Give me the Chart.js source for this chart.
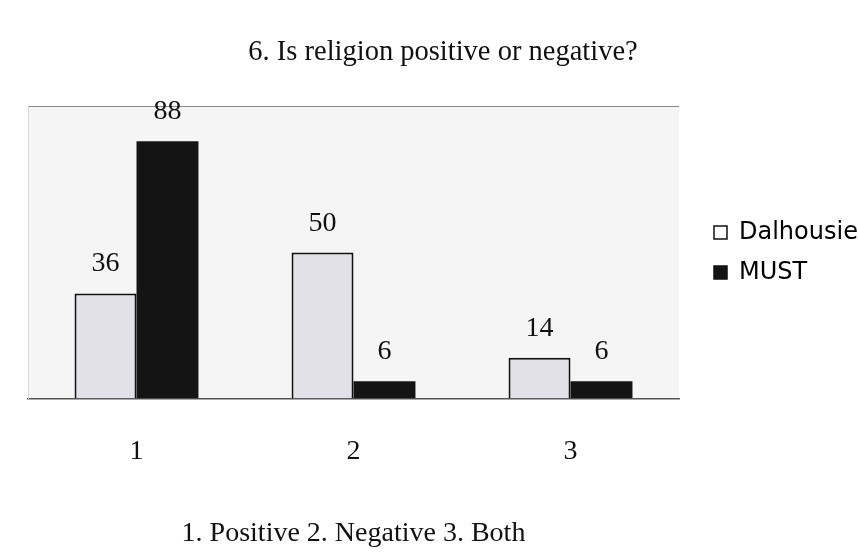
<!DOCTYPE html>
<html>
<head>
<meta charset="utf-8">
<script src="https://cdn.jsdelivr.net/npm/chart.js@4.4.0/dist/chart.umd.min.js"></script>
<style>
    html, body { margin: 0; padding: 0; background: #ffffff; }
    #wrap { width: 858px; height: 553px; }
</style>
</head>
<body>
<div id="wrap"><canvas id="chart"></canvas></div>
<script>
// Datos del gráfico
const categories = ['1', '2', '3'];
const dalhousie = [36, 50, 14];
const must = [88, 6, 6];
const seriesNames = ['Dalhousie', 'MUST'];
const titleText = '6. Is religion positive or negative?';
const xTitle = '1. Positive 2. Negative 3. Both';

// Fondo gris claro del área de trazado
const plotBackground = {
    id: 'plotBackground',
    beforeDraw(chart) {
        const { ctx, chartArea } = chart;
        ctx.save();
        ctx.fillStyle = '#f5f5f6';
        ctx.fillRect(chartArea.left, chartArea.top, chartArea.width, chartArea.height);
        ctx.restore();
    }
};

// Leyenda: ancho fijo y desplazada un poco a la derecha
const legendFit = {
    id: 'legendFit',
    beforeLayout(chart) {
        const legend = chart.legend;
        if (!legend || legend._patched) return;
        const fit = legend.fit;
        legend.fit = function () {
            fit.call(this);
            this.width = 179;
        };
        legend._patched = true;
    },
    afterLayout(chart) {
        const legend = chart.legend;
        legend.left += 19;
        legend.right += 19;
    }
};

// Etiquetas de valor encima de las barras
const valueLabels = {
    id: 'valueLabels',
    afterDatasetsDraw(chart) {
        const ctx = chart.ctx;
        ctx.save();
        ctx.font = '28px "Liberation Serif"';
        ctx.fillStyle = '#111';
        ctx.textAlign = 'center';
        ctx.textBaseline = 'alphabetic';
        chart.data.datasets.forEach((ds, i) => {
            chart.getDatasetMeta(i).data.forEach((bar, j) => {
                ctx.fillText(ds.data[j], bar.x, bar.y - 22);
            });
        });
        ctx.restore();
    }
};

new Chart(document.getElementById('chart'), {
    type: 'bar',
    data: {
        labels: categories,
        datasets: [{
            label: seriesNames[0],
            data: dalhousie,
            backgroundColor: '#e2e1e8',
            borderColor: '#111',
            borderWidth: 2,
            borderSkipped: 'bottom'
        }, {
            label: seriesNames[1],
            data: must,
            backgroundColor: '#141414',
            borderColor: '#141414',
            borderWidth: 0
        }]
    },
    options: {
        responsive: true,
        maintainAspectRatio: false,
        animation: false,
        layout: { padding: { left: 28, right: 0, top: 0, bottom: 3 } },
        datasets: {
            bar: { categoryPercentage: 0.571, barPercentage: 1.0 }
        },
        plugins: {
            title: {
                display: true,
                text: titleText,
                color: '#111',
                font: { family: 'Liberation Serif', size: 28.5, weight: 'normal' },
                padding: { top: 35, bottom: 37 }
            },
            legend: {
                position: 'right',
                fullSize: false,
                labels: {
                    color: '#111',
                    font: { family: 'DejaVu Sans', size: 24 },
                    boxWidth: 13,
                    boxHeight: 13,
                    padding: 16,
                    generateLabels(chart) {
                        return chart.data.datasets.map((ds, i) => ({
                            text: ds.label,
                            fillStyle: i === 0 ? '#ffffff' : '#141414',
                            strokeStyle: '#111',
                            lineWidth: 1.5,
                            datasetIndex: i
                        }));
                    }
                }
            },
            tooltip: { enabled: false }
        },
        scales: {
            x: {
                grid: { display: false },
                border: { display: true, color: '#555', width: 1.5 },
                ticks: {
                    color: '#111',
                    font: { family: 'Liberation Serif', size: 28 },
                    padding: 28
                },
                title: {
                    display: true,
                    text: xTitle,
                    color: '#111',
                    font: { family: 'Liberation Serif', size: 28 },
                    padding: { top: 20, bottom: 0 }
                }
            },
            y: {
                min: 0,
                max: 100,
                ticks: { display: false, stepSize: 100 },
                grid: {
                    drawTicks: false,
                    color: ctx => ctx.tick && ctx.tick.value === 100 ? '#888' : 'transparent'
                },
                border: { display: true, color: '#d8d8d8', width: 1 }
            }
        }
    },
    plugins: [plotBackground, legendFit, valueLabels]
});
</script>
</body>
</html>
